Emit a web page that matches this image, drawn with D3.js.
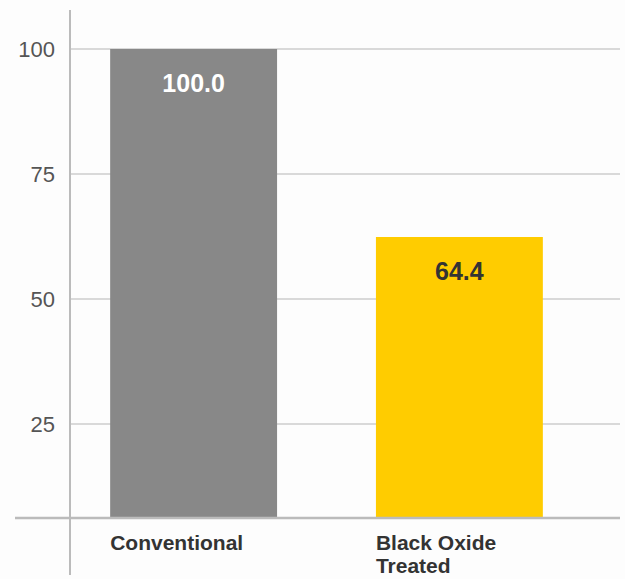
<!DOCTYPE html>
<html>
<head>
<meta charset="utf-8">
<script src="https://cdn.jsdelivr.net/npm/d3@7"></script>
<style>
  html, body { margin: 0; padding: 0; background: #fdfdfd; }
  svg { display: block; font-family: "Liberation Sans", Arial, sans-serif; }
</style>
</head>
<body>
<svg id="chart" width="625" height="579"></svg>
<script>
const categories = [["Conventional"], ["Black Oxide", "Treated"]];
const values = [100, 62.4];
const valueLabels = ["100.0", "64.4"];
const barColors = ["#888888", "#ffcc00"];
const labelColors = ["#ffffff", "#333333"];
const yTicks = [25, 50, 75, 100];

const svg = d3.select("#chart");
const W = 625, H = 579;

const x = d3.scaleBand()
  .domain(d3.range(categories.length))
  .range([57, 596])
  .paddingInner(0.372)
  .paddingOuter(0.2);

const y = d3.scaleLinear().domain([6.2, 100]).range([518, 49]);

// gridlines
svg.append("g").selectAll("line").data(yTicks).join("line")
  .attr("x1", 70).attr("x2", 620)
  .attr("y1", d => y(d)).attr("y2", d => y(d))
  .attr("stroke", "#cccccc").attr("stroke-width", 1.5);

// y axis (labels only)
const yAxis = d3.axisLeft(y).tickValues(yTicks).tickSize(0).tickPadding(15);
const gy = svg.append("g").attr("transform", "translate(70,0)").call(yAxis);
gy.select(".domain").remove();
gy.selectAll("text")
  .attr("font-size", 22)
  .attr("font-family", "'Liberation Sans', Arial, sans-serif")
  .attr("fill", "#555555");

// bars
svg.append("g").selectAll("rect").data(values).join("rect")
  .attr("x", (d, i) => x(i))
  .attr("width", x.bandwidth())
  .attr("y", d => y(d))
  .attr("height", d => y.range()[0] - y(d))
  .attr("fill", (d, i) => barColors[i]);

// value labels
svg.append("g").selectAll("text").data(values).join("text")
  .attr("x", (d, i) => x(i) + x.bandwidth() / 2)
  .attr("y", d => y(d) + 43)
  .attr("text-anchor", "middle")
  .attr("font-size", 25)
  .attr("font-weight", "bold")
  .attr("fill", (d, i) => labelColors[i])
  .text((d, i) => valueLabels[i]);

// vertical axis line
svg.append("line")
  .attr("x1", 70).attr("x2", 70).attr("y1", 10).attr("y2", 575)
  .attr("stroke", "#bbbbbb").attr("stroke-width", 2);

// baseline
svg.append("line")
  .attr("x1", 15).attr("x2", 620)
  .attr("y1", y.range()[0]).attr("y2", y.range()[0])
  .attr("stroke", "#bbbbbb").attr("stroke-width", 2.5);

// category labels
const cat = svg.append("g").selectAll("text").data(categories).join("text")
  .attr("x", (d, i) => x(i))
  .attr("y", 550)
  .attr("font-size", 21)
  .attr("font-weight", "bold")
  .attr("fill", "#333333");
cat.selectAll("tspan").data(d => d).join("tspan")
  .attr("x", function () { return d3.select(this.parentNode).attr("x"); })
  .attr("dy", (d, j) => j === 0 ? 0 : 23)
  .text(d => d);
</script>
</body>
</html>
